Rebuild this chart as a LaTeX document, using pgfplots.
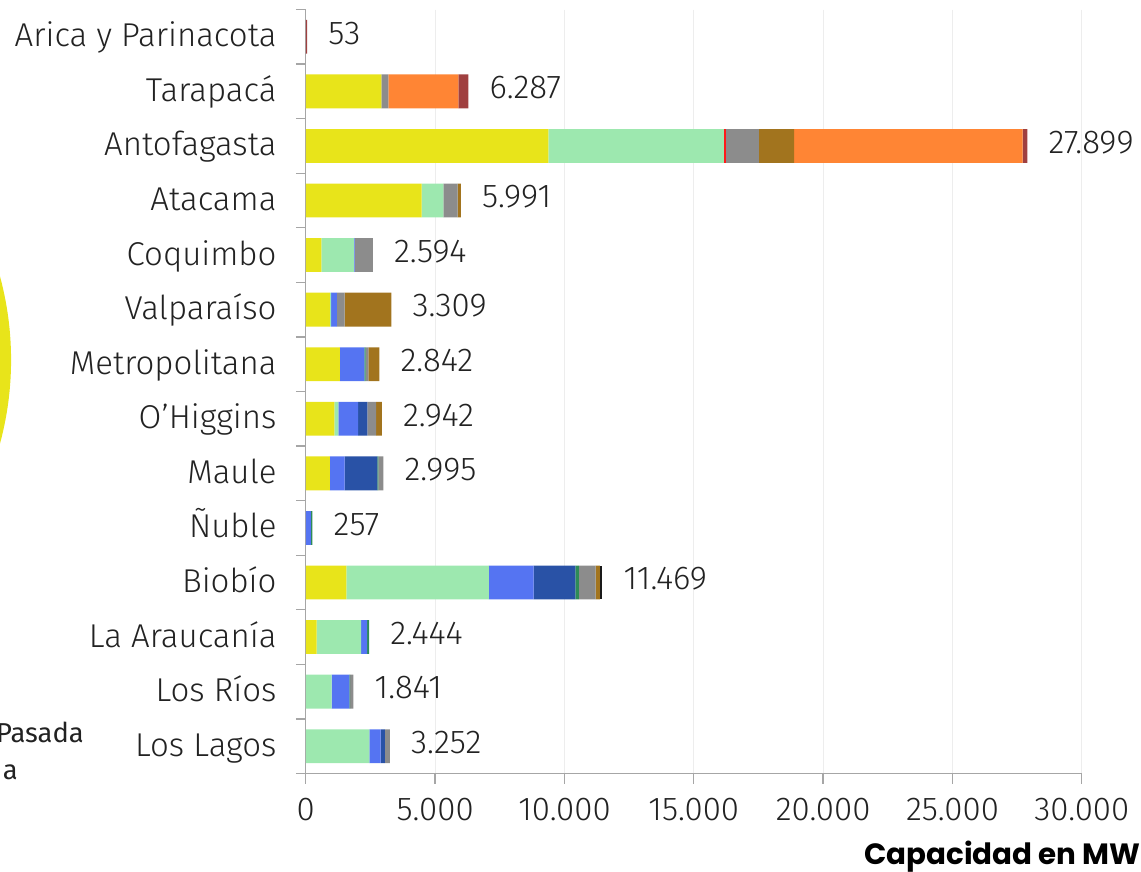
\documentclass[border=0pt]{standalone}
\usepackage{fontspec}
\setmainfont{Fira Sans Light}
\newfontfamily\titlefont{Poppins}
\newfontfamily\legfont{Fira Sans}
\usepackage{pgfplots}
\pgfplotsset{compat=1.18}
\usepackage{pgfplotstable}
\definecolor{csolar}{HTML}{E8E41A}
\definecolor{ceol}{HTML}{9DE8AF}
\definecolor{cred}{HTML}{FF1A1A}
\definecolor{chpas}{HTML}{5574F2}
\definecolor{chemb}{HTML}{2952A6}
\definecolor{cdgreen}{HTML}{2E8B57}
\definecolor{cgray}{HTML}{8C8C8C}
\definecolor{cbrown}{HTML}{A2741E}
\definecolor{corange}{HTML}{FF8534}
\definecolor{cdred}{HTML}{A04040}
\definecolor{cblack}{HTML}{1A1A1A}
\definecolor{axisgray}{HTML}{A6A6A6}
\definecolor{gridgray}{HTML}{EDEDED}
\definecolor{txt}{HTML}{222222}
\pgfplotstableread{
idx solar eolica red hpas hemb dgreen gray brown orange dred black total label
0  0    0    0  0    0    0   0    0    0    53  0  53    53
1  2918 0    0  0    0    0   271  0    2706 392 0  6287  6.287
2  9374 6790 80 0    0    0   1274 1365 8830 186 0  27899 27.899
3  4480 835  0  0    0    0   556  120  0    0   0  5991  5.991
4  600  1263 0  20   0    0   711  0    0    0   0  2594  2.594
5  935  40   0  230  0    0   300  1804 0    0   0  3309  3.309
6  1322 0    0  940  0    50  110  420  0    0   0  2842  2.842
7  1102 154  0  762  360  0   336  228  0    0   0  2942  2.942
8  935  0    0  568  1262 38  192  0    0    0   0  2995  2.995
9  0    0    0  195  0    62  0    0    0    0   0  257   257
10 1566 5516 0  1727 1609 143 645  166  0    0   97 11469 11.469
11 421  1713 0  232  0    78  0    0    0    0   0  2444  2.444
12 0    1000 0  683  0    30  128  0    0    0   0  1841  1.841
13 0    2456 0  437  168  0   191  0    0    0   0  3252  3.252
}\data
\begin{document}
\begin{tikzpicture}
\fill[csolar] (-230.7pt,383.25pt) circle (239pt);
\node[anchor=base east, inner sep=0pt, text=txt, font=\legfont\fontsize{20.5}{24}\selectfont] at (63pt,96.75pt) {Pasada};
\node[anchor=base east, inner sep=0pt, text=txt, font=\legfont\fontsize{20.5}{24}\selectfont] at (13.5pt,69pt) {a};
\begin{axis}[
  at={(229.35pt,73.125pt)}, anchor=south west,
  scale only axis, width=582pt, height=573pt,
  xbar stacked, bar width=0.62,
  xmin=0, xmax=30000, ymin=-0.5, ymax=13.5, y dir=reverse,
  axis x line*=bottom, axis y line*=left,
  axis line style={draw=axisgray, line width=1pt, -},
  xtick={0,5000,...,30000},
  scaled x ticks=false,
  tick align=outside, major tick length=7.5pt,
  tick style={draw=axisgray, line width=1pt},
  xmajorgrids, grid style={draw=gridgray, line width=0.8pt},
  ytick={-0.5,0.5,...,13.5}, yticklabels={},
  extra y ticks={0,1,2,3,4,5,6,7,8,9,10,11,12,13},
  extra y tick labels={Arica y Parinacota,Tarapacá,Antofagasta,Atacama,Coquimbo,Valparaíso,Metropolitana,O'Higgins,Maule,Ñuble,Biobío,La Araucanía,Los Ríos,Los Lagos},
  extra y tick style={tick style={draw=none}, ymajorgrids=false},
  /pgf/number format/assume math mode=true,
  /pgf/number format/1000 sep={.},
  ticklabel style={font=\fontsize{24.75}{28}\selectfont, text=txt, inner sep=0pt, text height=0.689em, text depth=0pt},
  xticklabel style={anchor=north, yshift=-21pt},
  yticklabel style={anchor=east, xshift=-14.3pt, yshift=-4pt},
]
\addplot[fill=csolar, draw=none] table[x=solar, y=idx]{\data};
\addplot[fill=ceol, draw=none] table[x=eolica, y=idx]{\data};
\addplot[fill=cred, draw=none] table[x=red, y=idx]{\data};
\addplot[fill=chpas, draw=none] table[x=hpas, y=idx]{\data};
\addplot[fill=chemb, draw=none] table[x=hemb, y=idx]{\data};
\addplot[fill=cdgreen, draw=none] table[x=dgreen, y=idx]{\data};
\addplot[fill=cgray, draw=none] table[x=gray, y=idx]{\data};
\addplot[fill=cbrown, draw=none] table[x=brown, y=idx]{\data};
\addplot[fill=corange, draw=none] table[x=orange, y=idx]{\data};
\addplot[fill=cdred, draw=none] table[x=dred, y=idx]{\data};
\addplot[fill=cblack, draw=none] table[x=black, y=idx]{\data};
\end{axis}
\begin{axis}[
  at={(229.35pt,73.125pt)}, anchor=south west,
  scale only axis, width=582pt, height=573pt,
  xmin=0, xmax=30000, ymin=-0.5, ymax=13.5, y dir=reverse,
  hide axis,
  every node near coord/.append style={font=\fontsize{24.75}{28}\selectfont, text=txt, anchor=west, xshift=15.75pt, yshift=-2pt, inner sep=0pt, text height=0.689em, text depth=0pt},
]
\addplot[draw=none, mark=none, nodes near coords, point meta=explicit symbolic] table[x=total, y=idx, meta=label]{\data};
\end{axis}
\node[anchor=base east, inner sep=0pt, text=black, font=\titlefont\bfseries\fontsize{22}{25}\selectfont] at (855.6pt,5.25pt) {Capacidad en MW};
\pgfresetboundingbox
\useasboundingbox (0,0) rectangle (855.75pt,653.25pt);
\end{tikzpicture}
\end{document}
